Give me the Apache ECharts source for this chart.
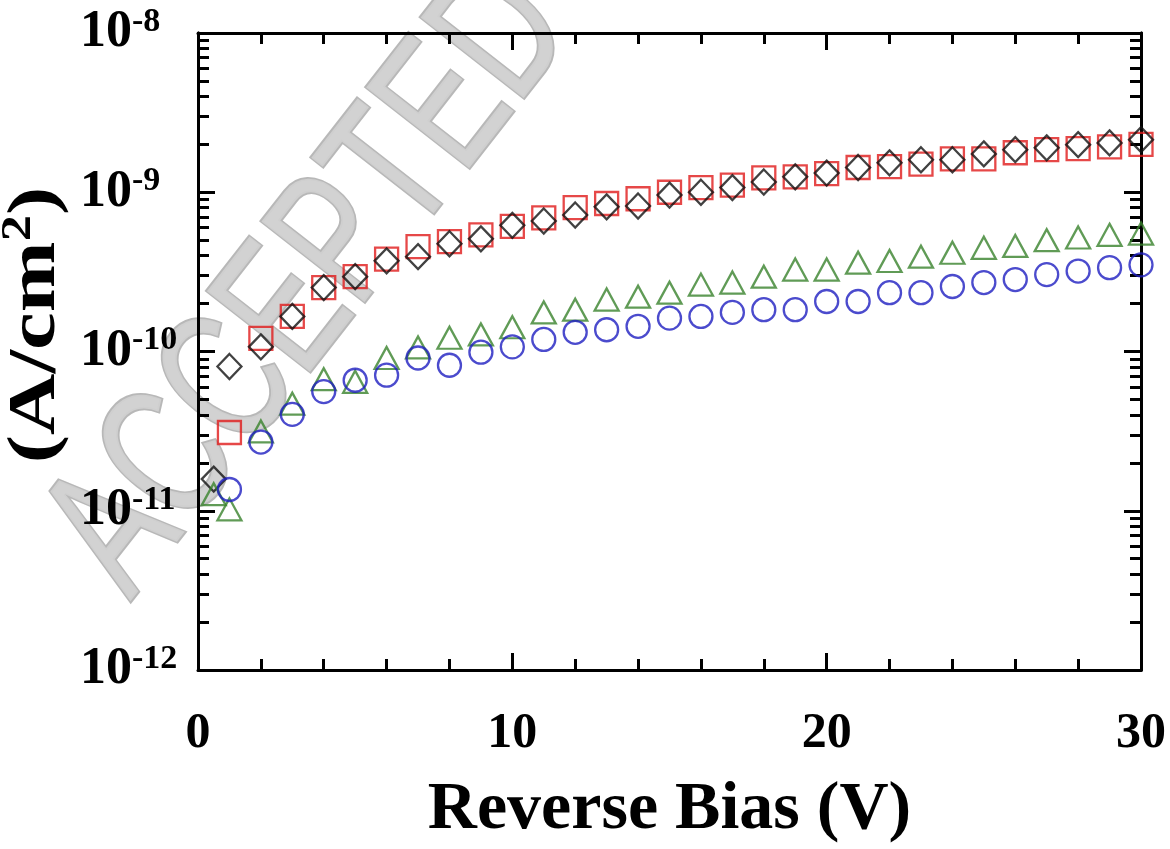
<!DOCTYPE html>
<html>
<head>
<meta charset="utf-8">
<script src="https://cdn.jsdelivr.net/npm/echarts@6/dist/echarts.min.js"></script>
<style>html,body{margin:0;padding:0;background:#fff}#c{width:1170px;height:849px}</style>
</head>
<body>
<div id="c"></div>
<script>
// Reverse bias (V)
const biasWithHalf = [0.5, 1, 2, 3, 4, 5, 6, 7, 8, 9, 10, 11, 12, 13, 14, 15, 16, 17, 18, 19, 20, 21, 22, 23, 24, 25, 26, 27, 28, 29, 30];
const biasFromOne = [1, 2, 3, 4, 5, 6, 7, 8, 9, 10, 11, 12, 13, 14, 15, 16, 17, 18, 19, 20, 21, 22, 23, 24, 25, 26, 27, 28, 29, 30];

// Current density (A/cm^2)
const diamondJ = [1.58e-11, 8.05e-11, 1.07e-10, 1.66e-10, 2.52e-10, 2.95e-10, 3.71e-10, 3.94e-10, 4.75e-10, 5.1e-10, 6.2e-10,
  6.6e-10, 7.2e-10, 8.1e-10, 8.2e-10, 9.6e-10, 1.0e-9, 1.07e-9, 1.16e-9, 1.25e-9, 1.32e-9,
  1.43e-9, 1.53e-9, 1.6e-9, 1.6e-9, 1.74e-9, 1.85e-9, 1.9e-9, 1.99e-9, 2.04e-9, 2.14e-9];
const squareJ = [3.1e-11, 1.21e-10, 1.66e-10, 2.52e-10, 2.95e-10, 3.8e-10, 4.55e-10, 4.9e-10, 5.4e-10, 6.1e-10,
  6.9e-10, 8.0e-10, 8.5e-10, 9.1e-10, 1.0e-9, 1.07e-9, 1.11e-9, 1.23e-9, 1.25e-9, 1.31e-9,
  1.43e-9, 1.45e-9, 1.5e-9, 1.62e-9, 1.62e-9, 1.77e-9, 1.85e-9, 1.88e-9, 1.93e-9, 2.0e-9];
const triangleJ = [1.27e-11, 1.02e-11, 3.15e-11, 4.7e-11, 6.7e-11, 6.45e-11, 9.1e-11, 1.06e-10, 1.22e-10, 1.28e-10, 1.42e-10,
  1.76e-10, 1.83e-10, 2.12e-10, 2.21e-10, 2.34e-10, 2.63e-10, 2.71e-10, 2.95e-10, 3.27e-10, 3.27e-10,
  3.61e-10, 3.7e-10, 3.94e-10, 4.17e-10, 4.48e-10, 4.6e-10, 5.0e-10, 5.2e-10, 5.4e-10, 5.5e-10];
const circleJ = [1.36e-11, 2.7e-11, 4.03e-11, 5.6e-11, 6.6e-11, 7.1e-11, 9.1e-11, 8.2e-11, 9.9e-11, 1.07e-10,
  1.19e-10, 1.32e-10, 1.37e-10, 1.44e-10, 1.62e-10, 1.66e-10, 1.76e-10, 1.83e-10, 1.83e-10, 2.06e-10,
  2.06e-10, 2.34e-10, 2.34e-10, 2.56e-10, 2.71e-10, 2.83e-10, 3.04e-10, 3.2e-10, 3.36e-10, 3.5e-10];

// Axis ticks
const yDecades = [1e-12, 1e-11, 1e-10, 1e-9, 1e-8];
const yMinorMultipliers = [2, 3, 4, 5, 6, 7, 8, 9];
const xTickValues = [0, 10, 20, 30];

const xTitle = 'Reverse Bias (V)';
const yTitle = '(A/cm{s|2})';
const watermark = 'ACCEPTED';

const FONT = '"Liberation Serif", "Times New Roman", serif';
const yMinor = [];
yDecades.slice(0, -1).forEach(d => yMinorMultipliers.forEach(m => yMinor.push(m * d)));

const pair = (xs, ys) => xs.map((x, i) => [x, ys[i]]);
const lineSty = { color: '#000', width: 3 };

const yBase = { type: 'log', logBase: 10, min: yDecades[0], max: yDecades[yDecades.length - 1], splitLine: { show: false },
  axisLine: { show: true, onZero: false, lineStyle: lineSty } };
const xBase = { type: 'value', min: 0, max: 30, interval: 10, splitLine: { show: false },
  axisTick: { show: true, inside: true, length: 17, lineStyle: { width: 3, color: '#000' } },
  minorTick: { show: true, splitNumber: 5, length: 11, lineStyle: { width: 3, color: '#000' } },
  axisLine: { show: true, onZero: false, lineStyle: lineSty } };

const chart = echarts.init(document.getElementById('c'), null, { renderer: 'canvas' });
chart.setOption({
  animation: false,
  backgroundColor: '#fff',
  grid: { left: 198, right: 29, top: 33, bottom: 178 },
  xAxis: [
    Object.assign({}, xBase, {
      position: 'bottom',
      axisLabel: { fontFamily: FONT, fontWeight: 'bold', fontSize: 50, color: '#000', margin: 39,
        formatter: v => (xTickValues.indexOf(v) >= 0 ? String(v) : '') },
      name: xTitle, nameLocation: 'middle', nameGap: 106,
      nameTextStyle: { fontFamily: FONT, fontWeight: 'bold', fontSize: 68, color: '#000' }
    }),
    Object.assign({}, xBase, { position: 'top', axisLabel: { show: false } })
  ],
  yAxis: [
    Object.assign({}, yBase, {
      position: 'left',
      axisTick: { show: true, inside: true, length: 17, lineStyle: { width: 3, color: '#000' } },
      axisLabel: {
        align: 'left', margin: 118, verticalAlign: 'middle',
        formatter: v => '{a|10}{b|' + Math.round(Math.log10(v)) + '}',
        rich: {
          a: { fontFamily: FONT, fontWeight: 'bold', fontSize: 52, lineHeight: 56, color: '#000' },
          b: { fontFamily: FONT, fontWeight: 'bold', fontSize: 34, lineHeight: 30, verticalAlign: 'top', color: '#000' }
        }
      }
    }),
    Object.assign({}, yBase, {
      position: 'left',
      axisTick: { show: true, inside: true, length: 11, customValues: yMinor, lineStyle: { width: 3, color: '#000' } },
      axisLabel: { show: false }
    }),
    Object.assign({}, yBase, {
      position: 'right',
      axisTick: { show: true, inside: true, length: 17, lineStyle: { width: 3, color: '#000' } },
      axisLabel: { show: false }
    }),
    Object.assign({}, yBase, {
      position: 'right',
      axisTick: { show: true, inside: true, length: 11, customValues: yMinor, lineStyle: { width: 3, color: '#000' } },
      axisLabel: { show: false }
    })
  ],
  graphic: [
    {
      type: 'text', z: -5, x: 312, y: 284, rotation: 52 * Math.PI / 180, scaleX: 0.7, scaleY: 1, silent: true,
      style: { text: watermark, fontFamily: '"Liberation Sans", sans-serif', fontSize: 190, fontWeight: 'normal',
        fill: '#d0d0d0', stroke: '#b4b4b4', lineWidth: 4, align: 'center', verticalAlign: 'middle', opacity: 0.95 }
    },
    {
      type: 'text', z: 10, x: 36, y: 325, rotation: Math.PI / 2, scaleX: 1.25, scaleY: 1,
      style: { text: yTitle, fontFamily: FONT, fontSize: 68, fontWeight: 'bold', fill: '#000',
        lineHeight: 76, align: 'center', verticalAlign: 'middle',
        rich: { s: { fontFamily: FONT, fontSize: 42, fontWeight: 'bold', lineHeight: 30, verticalAlign: 'top', fill: '#000' } } }
    }
  ],
  series: [
    { type: 'scatter', name: 'square', xAxisIndex: 0, yAxisIndex: 0, data: pair(biasFromOne, squareJ),
      symbol: 'rect', symbolSize: 23, itemStyle: { color: 'rgba(0,0,0,0)', borderColor: '#e01a1a', borderWidth: 2.3 } },
    { type: 'scatter', name: 'diamond', xAxisIndex: 0, yAxisIndex: 0, data: pair(biasWithHalf, diamondJ),
      symbol: 'diamond', symbolSize: [24, 25], itemStyle: { color: 'rgba(0,0,0,0)', borderColor: '#111', borderWidth: 2.3 } },
    { type: 'scatter', name: 'triangle', xAxisIndex: 0, yAxisIndex: 0, data: pair(biasWithHalf, triangleJ),
      symbol: 'triangle', symbolSize: [24, 22], itemStyle: { color: 'rgba(0,0,0,0)', borderColor: '#38822c', borderWidth: 2.3 } },
    { type: 'scatter', name: 'circle', xAxisIndex: 0, yAxisIndex: 0, data: pair(biasFromOne, circleJ),
      symbol: 'circle', symbolSize: 23, itemStyle: { color: 'rgba(0,0,0,0)', borderColor: '#1e1ec0', borderWidth: 2.3 } }
  ]
});
</script>
</body>
</html>
